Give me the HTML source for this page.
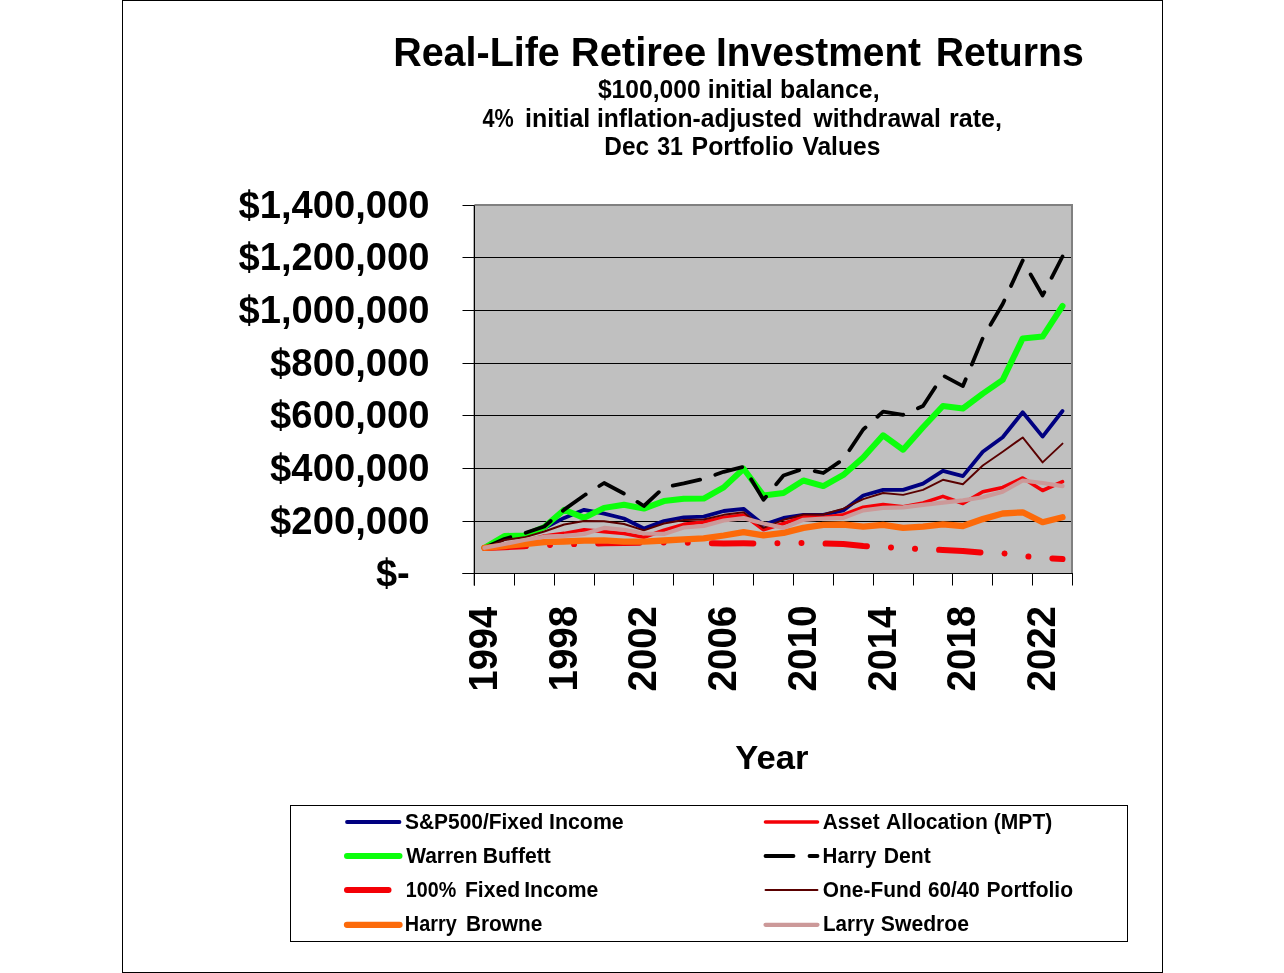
<!DOCTYPE html>
<html lang="en"><head><meta charset="utf-8"><title>Real-Life Retiree Investment Returns</title>
<style>
html,body{margin:0;padding:0;background:#fff;}
body{width:1284px;height:973px;overflow:hidden;}
svg{display:block;font-family:"Liberation Sans",sans-serif;font-weight:bold;fill:#000;}
.ln polyline{fill:none;stroke-linecap:round;stroke-linejoin:round;}
.lg line{stroke-linecap:round;}
</style></head><body>
<svg width="1284" height="973" viewBox="0 0 1284 973">
<rect x="0" y="0" width="1284" height="973" fill="#fff"/>
<rect x="122.5" y="0.5" width="1040" height="972" fill="none" stroke="#000" stroke-width="1"/>
<text y="65.60" font-size="40.8"><tspan x="393.14" textLength="166.68" lengthAdjust="spacingAndGlyphs">Real-Life</tspan> <tspan x="570.80" textLength="135.42" lengthAdjust="spacingAndGlyphs">Retiree</tspan> <tspan x="716.08" textLength="204.98" lengthAdjust="spacingAndGlyphs">Investment</tspan> <tspan x="935.65" textLength="148.15" lengthAdjust="spacingAndGlyphs">Returns</tspan></text>
<text y="97.60" font-size="25.2"><tspan x="597.89" textLength="102.92" lengthAdjust="spacingAndGlyphs">$100,000</tspan> <tspan x="707.86" textLength="64.92" lengthAdjust="spacingAndGlyphs">initial</tspan> <tspan x="779.98" textLength="99.59" lengthAdjust="spacingAndGlyphs">balance,</tspan></text>
<text y="126.70" font-size="25.2"><tspan x="482.58" textLength="31.23" lengthAdjust="spacingAndGlyphs">4%</tspan> <tspan x="525.05" textLength="65.23" lengthAdjust="spacingAndGlyphs">initial</tspan> <tspan x="596.98" textLength="204.94" lengthAdjust="spacingAndGlyphs">inflation-adjusted</tspan> <tspan x="813.56" textLength="127.27" lengthAdjust="spacingAndGlyphs">withdrawal</tspan> <tspan x="949.07" textLength="52.92" lengthAdjust="spacingAndGlyphs">rate,</tspan></text>
<text y="154.60" font-size="25.2"><tspan x="604.25" textLength="44.87" lengthAdjust="spacingAndGlyphs">Dec</tspan> <tspan x="657.28" textLength="25.71" lengthAdjust="spacingAndGlyphs">31</tspan> <tspan x="691.62" textLength="102.12" lengthAdjust="spacingAndGlyphs">Portfolio</tspan> <tspan x="802.42" textLength="77.91" lengthAdjust="spacingAndGlyphs">Values</tspan></text>
<rect x="474.5" y="204.5" width="598.0" height="369.0" fill="#C0C0C0"/>
<path d="M474.5,205.0 H1072.0 V573.5" fill="none" stroke="#808080" stroke-width="2"/>
<line x1="474.5" y1="521.5" x2="1071.0" y2="521.5" stroke="#000" stroke-width="1"/>
<line x1="474.5" y1="468.5" x2="1071.0" y2="468.5" stroke="#000" stroke-width="1"/>
<line x1="474.5" y1="415.5" x2="1071.0" y2="415.5" stroke="#000" stroke-width="1"/>
<line x1="474.5" y1="363.5" x2="1071.0" y2="363.5" stroke="#000" stroke-width="1"/>
<line x1="474.5" y1="310.5" x2="1071.0" y2="310.5" stroke="#000" stroke-width="1"/>
<line x1="474.5" y1="257.5" x2="1071.0" y2="257.5" stroke="#000" stroke-width="1"/>
<line x1="474.35" y1="205.5" x2="474.35" y2="585.5" stroke="#000" stroke-width="1.3"/>
<line x1="462.5" y1="573.5" x2="1073.0" y2="573.5" stroke="#000" stroke-width="1"/>
<line x1="462.5" y1="573.5" x2="474.5" y2="573.5" stroke="#000" stroke-width="1"/>
<text y="586.20" font-size="39.2"><tspan x="375.92" textLength="33.86" lengthAdjust="spacingAndGlyphs">$-</tspan></text>
<line x1="462.5" y1="521.5" x2="474.5" y2="521.5" stroke="#000" stroke-width="1"/>
<text y="534.20" font-size="39.2"><tspan x="270.12" textLength="159.45" lengthAdjust="spacingAndGlyphs">$200,000</tspan></text>
<line x1="462.5" y1="468.5" x2="474.5" y2="468.5" stroke="#000" stroke-width="1"/>
<text y="481.20" font-size="39.2"><tspan x="270.12" textLength="159.45" lengthAdjust="spacingAndGlyphs">$400,000</tspan></text>
<line x1="462.5" y1="415.5" x2="474.5" y2="415.5" stroke="#000" stroke-width="1"/>
<text y="428.20" font-size="39.2"><tspan x="270.12" textLength="159.45" lengthAdjust="spacingAndGlyphs">$600,000</tspan></text>
<line x1="462.5" y1="363.5" x2="474.5" y2="363.5" stroke="#000" stroke-width="1"/>
<text y="376.20" font-size="39.2"><tspan x="270.12" textLength="159.45" lengthAdjust="spacingAndGlyphs">$800,000</tspan></text>
<line x1="462.5" y1="310.5" x2="474.5" y2="310.5" stroke="#000" stroke-width="1"/>
<text y="323.20" font-size="39.2"><tspan x="238.52" textLength="191.01" lengthAdjust="spacingAndGlyphs">$1,000,000</tspan></text>
<line x1="462.5" y1="257.5" x2="474.5" y2="257.5" stroke="#000" stroke-width="1"/>
<text y="270.20" font-size="39.2"><tspan x="238.52" textLength="191.01" lengthAdjust="spacingAndGlyphs">$1,200,000</tspan></text>
<line x1="462.5" y1="205.5" x2="474.5" y2="205.5" stroke="#000" stroke-width="1"/>
<text y="218.20" font-size="39.2"><tspan x="238.52" textLength="191.01" lengthAdjust="spacingAndGlyphs">$1,400,000</tspan></text>
<line x1="474.5" y1="573.5" x2="474.5" y2="585.5" stroke="#000" stroke-width="1"/>
<line x1="514.5" y1="573.5" x2="514.5" y2="585.5" stroke="#000" stroke-width="1"/>
<line x1="554.5" y1="573.5" x2="554.5" y2="585.5" stroke="#000" stroke-width="1"/>
<line x1="594.5" y1="573.5" x2="594.5" y2="585.5" stroke="#000" stroke-width="1"/>
<line x1="633.5" y1="573.5" x2="633.5" y2="585.5" stroke="#000" stroke-width="1"/>
<line x1="673.5" y1="573.5" x2="673.5" y2="585.5" stroke="#000" stroke-width="1"/>
<line x1="713.5" y1="573.5" x2="713.5" y2="585.5" stroke="#000" stroke-width="1"/>
<line x1="753.5" y1="573.5" x2="753.5" y2="585.5" stroke="#000" stroke-width="1"/>
<line x1="793.5" y1="573.5" x2="793.5" y2="585.5" stroke="#000" stroke-width="1"/>
<line x1="833.5" y1="573.5" x2="833.5" y2="585.5" stroke="#000" stroke-width="1"/>
<line x1="873.5" y1="573.5" x2="873.5" y2="585.5" stroke="#000" stroke-width="1"/>
<line x1="913.5" y1="573.5" x2="913.5" y2="585.5" stroke="#000" stroke-width="1"/>
<line x1="952.5" y1="573.5" x2="952.5" y2="585.5" stroke="#000" stroke-width="1"/>
<line x1="992.5" y1="573.5" x2="992.5" y2="585.5" stroke="#000" stroke-width="1"/>
<line x1="1032.5" y1="573.5" x2="1032.5" y2="585.5" stroke="#000" stroke-width="1"/>
<line x1="1072.5" y1="573.5" x2="1072.5" y2="585.5" stroke="#000" stroke-width="1"/>
<text transform="translate(496.90,691.41) rotate(-90)" font-size="39.9" textLength="84.48" lengthAdjust="spacingAndGlyphs">1994</text>
<text transform="translate(576.62,691.44) rotate(-90)" font-size="39.9" textLength="85.47" lengthAdjust="spacingAndGlyphs">1998</text>
<text transform="translate(656.34,691.42) rotate(-90)" font-size="39.9" textLength="85.34" lengthAdjust="spacingAndGlyphs">2002</text>
<text transform="translate(736.06,691.42) rotate(-90)" font-size="39.9" textLength="85.66" lengthAdjust="spacingAndGlyphs">2006</text>
<text transform="translate(815.78,691.43) rotate(-90)" font-size="39.9" textLength="85.86" lengthAdjust="spacingAndGlyphs">2010</text>
<text transform="translate(895.50,691.41) rotate(-90)" font-size="39.9" textLength="84.48" lengthAdjust="spacingAndGlyphs">2014</text>
<text transform="translate(975.22,691.42) rotate(-90)" font-size="39.9" textLength="85.46" lengthAdjust="spacingAndGlyphs">2018</text>
<text transform="translate(1054.94,691.42) rotate(-90)" font-size="39.9" textLength="85.34" lengthAdjust="spacingAndGlyphs">2022</text>
<text y="769.00" font-size="33.5"><tspan x="735.29" textLength="73.07" lengthAdjust="spacingAndGlyphs">Year</tspan></text>
<g class="ln">
<polyline points="484.5,547.8 504.4,538.0 524.3,535.0 544.3,528.0 564.2,517.9 584.1,509.8 604.1,513.6 624.0,518.5 643.9,528.5 663.9,521.0 683.8,517.3 703.7,516.7 723.7,511.0 743.6,508.8 763.5,524.8 783.5,518.0 803.4,514.8 823.3,514.8 843.3,510.4 863.2,495.5 883.1,489.9 903.1,489.9 923.0,483.6 942.9,470.8 962.9,476.1 982.8,451.8 1002.7,437.2 1022.7,412.3 1042.6,436.6 1062.5,411.0" stroke="#000080" stroke-width="3.8"/>
<polyline points="484.5,547.8 504.4,546.5 524.3,541.0 544.3,536.0 564.2,533.4 584.1,529.8 604.1,531.6 624.0,533.5 643.9,537.2 663.9,530.2 683.8,524.4 703.7,522.0 723.7,517.5 743.6,515.0 763.5,529.8 783.5,523.5 803.4,516.7 823.3,517.3 843.3,514.8 863.2,507.3 883.1,504.6 903.1,506.7 923.0,503.0 942.9,496.4 962.9,503.5 982.8,491.7 1002.7,487.4 1022.7,478.0 1042.6,490.5 1062.5,481.7" stroke="#F40006" stroke-width="3.6"/>
<polyline points="484.5,547.8 504.4,536.0 524.3,535.4 544.3,527.0 564.2,509.8 584.1,517.9 604.1,507.9 624.0,504.8 643.9,508.6 663.9,501.1 683.8,498.8 703.7,498.6 723.7,487.4 743.6,468.7 763.5,495.5 783.5,493.0 803.4,480.5 823.3,486.1 843.3,474.9 863.2,457.5 883.1,435.3 903.1,449.7 923.0,427.2 942.9,406.0 962.9,408.5 982.8,393.6 1002.7,379.9 1022.7,338.4 1042.6,336.6 1062.5,306.0" stroke="#0CFF0C" stroke-width="6.0"/>
<polyline points="484.5,547.8 504.4,539.0 524.3,533.3 544.3,526.5 564.2,509.6 584.1,495.5 604.1,483.0 624.0,493.6 643.9,506.0 663.9,487.4 683.8,483.4 703.7,478.9 723.7,471.8 743.6,466.8 763.5,499.8 783.5,475.5 803.4,468.7 823.3,473.0 843.3,459.3 863.2,429.5 883.1,411.7 903.1,414.8 923.0,406.0 942.9,375.5 962.9,386.1 982.8,338.0 1002.7,304.0 1022.7,260.5 1042.6,295.5 1062.5,256.5" stroke="#000000" stroke-width="3.8" stroke-dasharray="28 16"/>
<polyline points="484.5,548.0 504.4,547.3 524.3,546.2 544.3,545.2 564.2,544.3 584.1,543.8 604.1,543.3 624.0,543.0 643.9,542.6 663.9,542.4 683.8,542.6 703.7,543.2 723.7,543.5 743.6,543.3 763.5,543.5 783.5,543.2 803.4,542.9 823.3,543.5 843.3,544.0 863.2,546.0 883.1,547.0 903.1,548.0 923.0,549.3 942.9,550.0 962.9,551.0 982.8,552.8 1002.7,553.3 1022.7,556.0 1042.6,558.0 1062.5,559.0" stroke="#F40006" stroke-width="6.0" stroke-dasharray="41.5 24.07 0.01 24.07 0.01 24.07"/>
<polyline points="484.5,547.8 504.4,540.0 524.3,537.3 544.3,531.5 564.2,524.5 584.1,521.0 604.1,521.3 624.0,524.0 643.9,530.4 663.9,523.5 683.8,520.0 703.7,519.5 723.7,514.8 743.6,512.3 763.5,527.9 783.5,519.8 803.4,514.5 823.3,514.5 843.3,508.6 863.2,499.2 883.1,493.0 903.1,494.9 923.0,489.9 942.9,479.8 962.9,484.2 982.8,465.5 1002.7,451.8 1022.7,437.4 1042.6,462.4 1062.5,443.6" stroke="#5A0000" stroke-width="1.9"/>
<polyline points="484.5,547.8 504.4,546.0 524.3,544.0 544.3,542.2 564.2,541.5 584.1,540.6 604.1,540.3 624.0,541.6 643.9,541.6 663.9,540.5 683.8,539.3 703.7,538.3 723.7,535.5 743.6,532.2 763.5,535.4 783.5,532.9 803.4,527.9 823.3,524.8 843.3,524.5 863.2,526.6 883.1,524.8 903.1,527.9 923.0,526.6 942.9,524.4 962.9,526.0 982.8,519.1 1002.7,513.5 1022.7,512.3 1042.6,522.2 1062.5,517.3" stroke="#FC6A0A" stroke-width="6.3"/>
<polyline points="484.5,547.8 504.4,544.0 524.3,540.0 544.3,536.7 564.2,535.9 584.1,534.0 604.1,527.9 624.0,529.8 643.9,533.5 663.9,533.9 683.8,527.5 703.7,525.9 723.7,520.5 743.6,518.1 763.5,523.5 783.5,527.9 803.4,519.8 823.3,518.5 843.3,517.9 863.2,510.4 883.1,507.9 903.1,507.3 923.0,504.8 942.9,502.6 962.9,500.4 982.8,497.3 1002.7,491.7 1022.7,480.5 1042.6,483.0 1062.5,486.1" stroke="#CC9999" stroke-width="4.2"/>
</g>
<rect x="290.5" y="805.5" width="837" height="136" fill="#fff" stroke="#000" stroke-width="1"/>
<g class="lg">
<line x1="347.0" y1="822.0" x2="399.5" y2="822.0" stroke="#000080" stroke-width="3.8"/>
<text y="828.70" font-size="21.4"><tspan x="404.97" textLength="138.43" lengthAdjust="spacingAndGlyphs">S&amp;P500/Fixed</tspan> <tspan x="549.06" textLength="74.66" lengthAdjust="spacingAndGlyphs">Income</tspan></text>
<line x1="347.0" y1="856.0" x2="399.5" y2="856.0" stroke="#0CFF0C" stroke-width="6.0"/>
<text y="863.30" font-size="21.4"><tspan x="406.15" textLength="71.43" lengthAdjust="spacingAndGlyphs">Warren</tspan> <tspan x="482.67" textLength="68.12" lengthAdjust="spacingAndGlyphs">Buffett</tspan></text>
<line x1="347.0" y1="890.0" x2="399.5" y2="890.0" stroke="#F40006" stroke-width="6.0" stroke-dasharray="41.5 24.07 0.01 24.07 0.01 24.07"/>
<text y="897.20" font-size="21.4"><tspan x="405.87" textLength="50.38" lengthAdjust="spacingAndGlyphs">100%</tspan> <tspan x="464.98" textLength="55.14" lengthAdjust="spacingAndGlyphs">Fixed</tspan> <tspan x="524.17" textLength="74.14" lengthAdjust="spacingAndGlyphs">Income</tspan></text>
<line x1="347.0" y1="924.8" x2="399.5" y2="924.8" stroke="#FC6A0A" stroke-width="6.3"/>
<text y="931.10" font-size="21.4"><tspan x="404.86" textLength="51.85" lengthAdjust="spacingAndGlyphs">Harry</tspan> <tspan x="465.89" textLength="76.53" lengthAdjust="spacingAndGlyphs">Browne</tspan></text>
<line x1="765.5" y1="822.0" x2="817.5" y2="822.0" stroke="#F40006" stroke-width="3.6"/>
<text y="828.70" font-size="21.4"><tspan x="822.78" textLength="56.81" lengthAdjust="spacingAndGlyphs">Asset</tspan> <tspan x="885.97" textLength="101.92" lengthAdjust="spacingAndGlyphs">Allocation</tspan> <tspan x="993.85" textLength="58.39" lengthAdjust="spacingAndGlyphs">(MPT)</tspan></text>
<line x1="765.5" y1="856.0" x2="817.5" y2="856.0" stroke="#000000" stroke-width="3.8" stroke-dasharray="28 16"/>
<text y="863.30" font-size="21.4"><tspan x="822.61" textLength="53.70" lengthAdjust="spacingAndGlyphs">Harry</tspan> <tspan x="883.77" textLength="47.09" lengthAdjust="spacingAndGlyphs">Dent</tspan></text>
<line x1="765.5" y1="890.0" x2="817.5" y2="890.0" stroke="#5A0000" stroke-width="1.9"/>
<text y="897.20" font-size="21.4"><tspan x="822.86" textLength="98.62" lengthAdjust="spacingAndGlyphs">One-Fund</tspan> <tspan x="928.02" textLength="51.81" lengthAdjust="spacingAndGlyphs">60/40</tspan> <tspan x="986.48" textLength="86.62" lengthAdjust="spacingAndGlyphs">Portfolio</tspan></text>
<line x1="765.5" y1="924.8" x2="817.5" y2="924.8" stroke="#CC9999" stroke-width="4.2"/>
<text y="931.10" font-size="21.4"><tspan x="823.01" textLength="51.42" lengthAdjust="spacingAndGlyphs">Larry</tspan> <tspan x="880.87" textLength="88.13" lengthAdjust="spacingAndGlyphs">Swedroe</tspan></text>
</g>
</svg>
</body></html>
